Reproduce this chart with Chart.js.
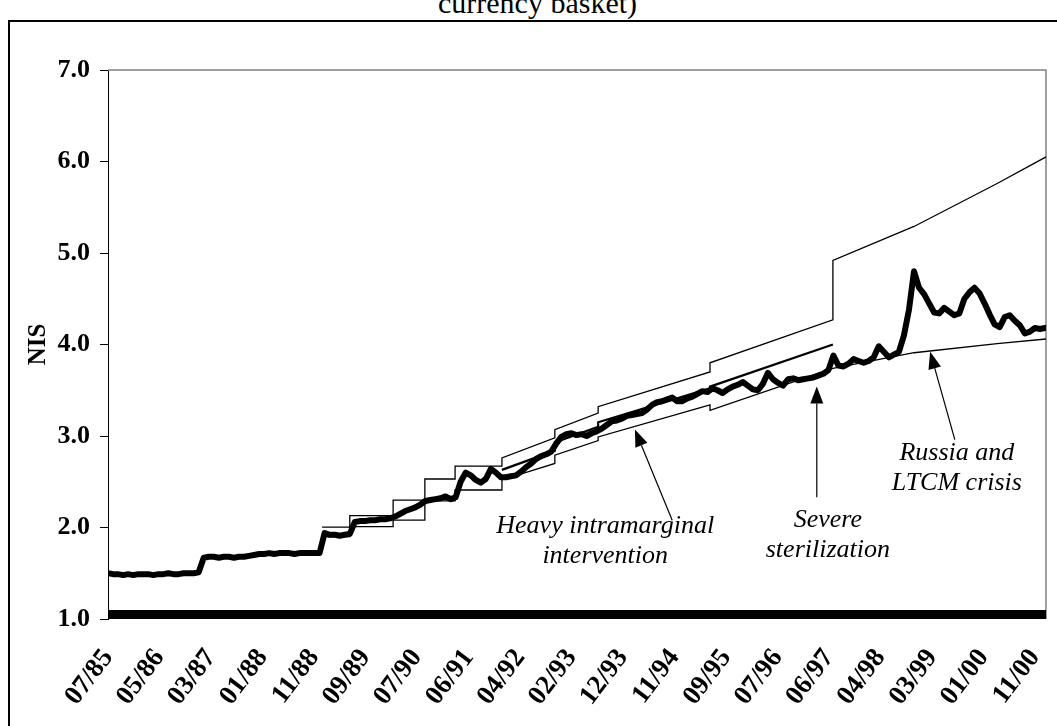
<!DOCTYPE html>
<html>
<head>
<meta charset="utf-8">
<script src="https://cdn.jsdelivr.net/npm/chart.js@4.4.0/dist/chart.umd.min.js"></script>
<style>
html,body{margin:0;padding:0;background:#fff;overflow:hidden;}
#wrap{position:relative;width:1057px;height:726px;overflow:hidden;background:#fff;}
#title{position:absolute;left:0;width:1075px;top:-14px;text-align:center;font:30px "Liberation Serif","Times New Roman",serif;color:#000;line-height:34px;}
#frame{position:absolute;left:8px;top:20px;width:1200px;height:900px;border:2px solid #000;box-sizing:border-box;}
canvas{position:absolute;left:0;top:0;}
</style>
</head>
<body>
<div id="wrap">
  <div id="title">currency basket)</div>
  <div id="frame"></div>
  <canvas id="c" width="1057" height="726"></canvas>
</div>
<script>
// x values are months counted from 07/85 (0 = 07/85)
const tickLabels = ['07/85','05/86','03/87','01/88','11/88','09/89','07/90','06/91','04/92','02/93',
                    '12/93','11/94','09/95','07/96','06/97','04/98','03/99','01/00','11/00'];
const tickMonths = [0,10.2,20.4,30.7,40.9,51.1,61.3,71.6,81.8,92.0,102.2,112.4,122.7,132.9,143.1,153.3,163.6,173.8,184.0];

// NIS per currency basket, monthly from 07/85
const rateValues = [
 1.50,1.49,1.49,1.48,1.49,1.48,1.49,1.49,1.49,1.48,
 1.49,1.49,1.50,1.49,1.49,1.50,1.50,1.50,1.51,1.67,
 1.68,1.68,1.67,1.68,1.68,1.67,1.68,1.68,1.69,1.70,
 1.71,1.71,1.72,1.71,1.72,1.72,1.72,1.71,1.72,1.72,
 1.72,1.72,1.72,1.94,1.92,1.92,1.91,1.92,1.93,2.06,
 2.07,2.07,2.08,2.08,2.09,2.09,2.10,2.12,2.15,2.18,
 2.20,2.22,2.25,2.29,2.30,2.31,2.32,2.34,2.31,2.33,
 2.50,2.60,2.57,2.52,2.49,2.53,2.64,2.60,2.55,2.55,
 2.56,2.57,2.61,2.66,2.70,2.75,2.78,2.80,2.83,2.92,
 2.99,3.02,3.03,3.01,3.02,3.00,3.03,3.05,3.08,3.12,
 3.16,3.17,3.19,3.22,3.23,3.24,3.25,3.29,3.34,3.37,
 3.38,3.40,3.42,3.38,3.38,3.41,3.43,3.46,3.49,3.48,
 3.52,3.50,3.47,3.51,3.54,3.56,3.59,3.55,3.51,3.50,
 3.57,3.69,3.62,3.58,3.55,3.62,3.63,3.61,3.62,3.63,
 3.64,3.66,3.68,3.72,3.88,3.77,3.76,3.79,3.84,3.82,
 3.80,3.82,3.86,3.98,3.92,3.86,3.89,3.92,4.10,4.38,
 4.80,4.62,4.55,4.45,4.35,4.34,4.40,4.36,4.32,4.34,
 4.50,4.57,4.62,4.56,4.45,4.33,4.22,4.19,4.30,4.32,
 4.26,4.21,4.12,4.14,4.18,4.17,4.18
];

// Upper band (breakpoints)
const upperMonths = [42.5,48.0,48.0,56.6,56.6,62.9,62.9,68.9,68.9,78.2,78.2,88.7,88.7,97.3,97.3,119.5,119.5,143.9,143.9,160.0,176.5,186.2];
const upperValues = [2.005,2.005,2.13,2.13,2.30,2.30,2.53,2.53,2.67,2.67,2.76,2.98,3.07,3.25,3.32,3.70,3.80,4.27,4.92,5.29,5.76,6.05];

// Lower band (breakpoints)
const lowerMonths = [42.5,48.0,48.0,56.6,56.6,62.9,62.9,68.9,68.9,78.2,78.2,88.7,88.7,97.3,97.3,119.5,119.5,143.9,160.0,176.5,186.2];
const lowerValues = [1.90,1.90,2.01,2.01,2.08,2.08,2.29,2.29,2.41,2.41,2.52,2.70,2.79,2.95,2.99,3.34,3.28,3.74,3.91,4.01,4.06];

// Midpoint of the band, 1992-1997
const midMonths = [78.2,88.7,88.7,97.3,97.3,119.5,119.5,143.9];
const midValues = [2.63,2.84,2.93,3.10,3.15,3.52,3.54,4.00];

const pts = (xs, ys) => xs.map((x, i) => ({x: x, y: ys[i]}));

const notes = [
  {lines: ['Heavy intramarginal', 'intervention'], at: [98.7, 1.94], tail: [112.0, 2.08], tip: [104.6, 3.07]},
  {lines: ['Severe', 'sterilization'], at: [142.9, 2.005], tail: [140.7, 2.33], tip: [140.7, 3.54]},
  {lines: ['Russia and', 'LTCM crisis'], at: [168.5, 2.74], tail: [168.1, 2.96], tip: [163.2, 3.92]}
];

const deco = {
  id: 'deco',
  beforeDatasetsDraw(chart) {
    const {ctx, chartArea: a} = chart;
    ctx.save();
    ctx.strokeStyle = '#808080';
    ctx.lineWidth = 1.5;
    ctx.beginPath();
    ctx.moveTo(a.left, a.top);
    ctx.lineTo(a.right, a.top);
    ctx.lineTo(a.right, a.bottom);
    ctx.stroke();
    ctx.restore();
  },
  afterDatasetsDraw(chart) {
    const {ctx, chartArea: a, scales: {x, y}} = chart;
    ctx.save();
    ctx.fillStyle = '#000';
    ctx.fillRect(a.left, a.bottom - 9, a.right - a.left, 9);
    ctx.font = 'italic 26px "Liberation Serif", "Times New Roman", serif';
    ctx.textAlign = 'center';
    ctx.textBaseline = 'alphabetic';
    notes.forEach(n => {
      const tx = x.getPixelForValue(n.at[0]);
      const ty = y.getPixelForValue(n.at[1]);
      n.lines.forEach((t, i) => ctx.fillText(t, tx, ty + i * 30));
      const x0 = x.getPixelForValue(n.tail[0]), y0 = y.getPixelForValue(n.tail[1]);
      const x1 = x.getPixelForValue(n.tip[0]), y1 = y.getPixelForValue(n.tip[1]);
      const ang = Math.atan2(y1 - y0, x1 - x0);
      const L = 17, W = 6.5;
      const bx = x1 - L * Math.cos(ang), by = y1 - L * Math.sin(ang);
      ctx.strokeStyle = '#000';
      ctx.lineWidth = 1.2;
      ctx.beginPath();
      ctx.moveTo(x0, y0);
      ctx.lineTo(bx, by);
      ctx.stroke();
      ctx.beginPath();
      ctx.moveTo(x1, y1);
      ctx.lineTo(bx + W * Math.sin(ang), by - W * Math.cos(ang));
      ctx.lineTo(bx - W * Math.sin(ang), by + W * Math.cos(ang));
      ctx.closePath();
      ctx.fill();
    });
    ctx.restore();
  }
};

const serif = '"Liberation Serif", "Times New Roman", serif';

new Chart(document.getElementById('c'), {
  type: 'line',
  data: {
    datasets: [
      {label: 'Upper band', data: pts(upperMonths, upperValues), borderColor: '#000', borderWidth: 1.3, pointRadius: 0, fill: false, tension: 0},
      {label: 'Lower band', data: pts(lowerMonths, lowerValues), borderColor: '#000', borderWidth: 1.3, pointRadius: 0, fill: false, tension: 0},
      {label: 'Midpoint', data: pts(midMonths, midValues), borderColor: '#000', borderWidth: 2.2, pointRadius: 0, fill: false, tension: 0},
      {label: 'NIS/basket', data: rateValues.map((v, i) => ({x: i, y: v})), borderColor: '#000', borderWidth: 6, pointRadius: 0, fill: false, tension: 0, borderJoinStyle: 'round', borderCapStyle: 'round'}
    ]
  },
  options: {
    responsive: false,
    animation: false,
    devicePixelRatio: 1,
    layout: {padding: {left: 12, right: 11, top: 70, bottom: 0}},
    plugins: {legend: {display: false}, tooltip: {enabled: false}, title: {display: false}},
    scales: {
      x: {
        type: 'linear',
        min: 0,
        max: 186.2,
        grid: {display: false},
        border: {display: false},
        afterBuildTicks: s => { s.ticks = tickMonths.map(v => ({value: v})); },
        afterFit: s => { s.height = 107; s.paddingLeft = 0; s.paddingRight = 0; },
        ticks: {
          autoSkip: false,
          minRotation: 53,
          maxRotation: 53,
          padding: 16,
          color: '#000',
          font: {family: serif, size: 27, weight: 'bold'},
          callback: (v, i) => tickLabels[i]
        }
      },
      y: {
        min: 1,
        max: 7,
        afterFit: s => { s.width = 96; },
        grid: {drawOnChartArea: false, tickLength: 8, color: '#000', tickColor: '#000', lineWidth: 1},
        border: {display: true, color: '#000', width: 1},
        ticks: {
          stepSize: 1,
          padding: 10,
          color: '#000',
          font: {family: serif, size: 26, weight: 'bold'},
          callback: v => v.toFixed(1)
        },
        title: {display: true, text: 'NIS', color: '#000', font: {family: serif, size: 25, weight: 'bold'}, padding: {top: 12, bottom: 0}}
      }
    }
  },
  plugins: [deco]
});
</script>
</body>
</html>
